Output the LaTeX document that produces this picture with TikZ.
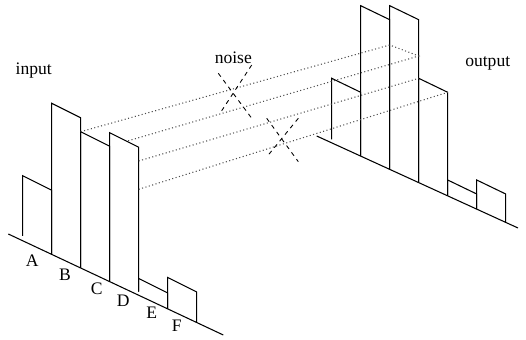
\documentclass[tikz,border=0pt]{standalone}
\usepackage{fontspec}
\setmainfont{Liberation Serif}
\usetikzlibrary{calc}

\begin{document}
\begin{tikzpicture}[
  x=0.02cm, y=-0.02cm,
  bar/.style={
    line width=0.6pt,
    line join=miter
  },
  axis/.style={
    line width=0.6pt
  },
  ray/.style={
    line width=0.6pt,
    black!70,
    dash pattern=on 0.6pt off 1.4pt
  },
  noisemark/.style={
    line width=0.5pt,
    dash pattern=on 2.4pt off 2.4pt
  },
  tag/.style={
    anchor=base,
    inner sep=0pt
  },
  every node/.style={font=\normalsize}
]

\useasboundingbox (0,0) rectangle (526,340);

% ============================================================
% Input histogram
% ============================================================

\draw[axis] (8.3,234) coordinate (inL) -- (223.3,335) coordinate (inR);

\foreach \n/\x/\bl/\t/\br in {A/22.7/236/175.7/254.4, B/51.7/254.4/103.3/268.0,
    C/80.7/268.0/131.7/281.7, D/109.7/281.7/132.7/291.7,
    E/138.7/291.7/278.5/308.9, F/167.7/308.9/277.5/322.5}
  \draw[bar] (\x,\bl) -- (\x,\t) coordinate (in\n-tl)
    -- ++(29,14.5) coordinate (in\n-tr) -- (\x+29,\br);

\foreach \n/\x/\y in {A/32.3/266.7, B/65/280, C/96.7/295,
    D/123.3/306.7, E/151.7/318.3, F/176.7/331.7}
  \node[tag] (lbl\n) at (\x,\y) {\n};

\node[tag] (inputlbl) at (33.8,75) {input};

% ============================================================
% Output histogram
% ============================================================

\draw[axis] (316.7,136) coordinate (outL) -- (518,228) coordinate (outR);

\foreach \n/\x/\bl/\t/\br in {1/331.7/139.3/78.3/156.1, 2/360.7/156.1/5.7/169.4,
    3/389.7/169.4/5.7/182.6, 4/418.7/182.6/78.3/195.9,
    5/447.7/195.9/180/209.1, 6/476.7/209.1/180/222.8}
  \draw[bar] (\x,\bl) -- (\x,\t) coordinate (out\n-tl)
    -- ++(29,14) coordinate (out\n-tr) -- (\x+29,\br);

\node[tag] (outputlbl) at (487.7,66.7) {output};

% ============================================================
% Transfer rays and noise
% ============================================================

\coordinate (c3l) at (389.7,45);
\coordinate (c3r) at (418.7,56);
\coordinate (d1) at (138.7,161);
\coordinate (d2) at (138.7,189.3);

\draw[ray] (inC-tl) -- (c3l) -- (c3r) -- ($(inC-tr)!0.056!(c3r)$);
\draw[ray] (d1) -- (out4-tl);
\draw[ray] (d2) -- (out4-tr);

\draw[noisemark] (218.3,73.3) -- (251.7,118.3);
\draw[noisemark] (251.7,65) -- (220,113.3);
\draw[noisemark] (266.7,118.3) -- (298.3,161.7);
\draw[noisemark] (298.3,118.3) -- (268.3,155);

\node[tag] (noiselbl) at (233.3,64) {noise};

\end{tikzpicture}
\end{document}
